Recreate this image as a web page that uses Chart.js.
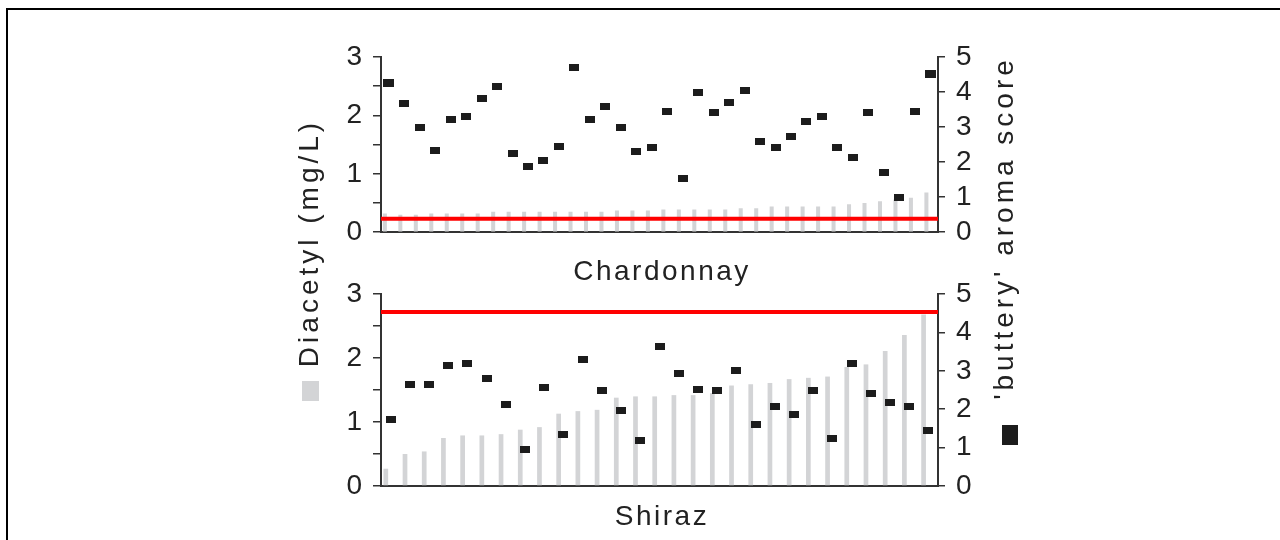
<!DOCTYPE html>
<html>
<head>
<meta charset="utf-8">
<script src="https://cdn.jsdelivr.net/npm/chart.js@4/dist/chart.umd.min.js"></script>
<style>
html,body{margin:0;padding:0;background:#fff;width:1280px;height:540px;overflow:hidden;position:relative;font-family:"Liberation Sans",Arial,sans-serif;color:#222}
#frame{position:absolute;left:6px;top:8px;width:1400px;height:700px;border-left:2px solid #000;border-top:2px solid #000;box-sizing:border-box}
canvas{position:absolute;left:0}
#c1{top:0}
#c2{top:260px}
.t{position:absolute;font-size:28px;letter-spacing:2.5px;white-space:nowrap;line-height:1;transform:translate(-50%,-50%)}
.r{transform:translate(-50%,-50%) rotate(-90deg);letter-spacing:4px}
.sq{position:absolute}
</style>
</head>
<body>
<div id="frame"></div>
<canvas id="c1" width="1280" height="260"></canvas>
<canvas id="c2" width="1280" height="280"></canvas>
<div class="t r" style="left:309px;top:243px">Diacetyl (mg/L)</div>
<div class="sq" style="left:302px;top:381px;width:17px;height:20px;background:#d3d4d6"></div>
<div class="t r" style="left:1004px;top:228px">'buttery' aroma score</div>
<div class="sq" style="left:1002px;top:425px;width:16px;height:20px;background:#1c1c1c"></div>
<div class="t" style="left:662px;top:271px">Chardonnay</div>
<div class="t" style="left:662px;top:516px">Shiraz</div>
<script>
// ---- data ----
const chardonnayWines = ['C1','C2','C3','C4','C5','C6','C7','C8','C9','C10','C11','C12','C13','C14','C15','C16','C17','C18','C19','C20','C21','C22','C23','C24','C25','C26','C27','C28','C29','C30','C31','C32','C33','C34','C35','C36'];
const chardonnayDiacetyl = [0.32,0.30,0.30,0.32,0.32,0.32,0.32,0.35,0.35,0.35,0.35,0.35,0.35,0.35,0.35,0.37,0.37,0.37,0.39,0.39,0.39,0.39,0.39,0.41,0.41,0.44,0.44,0.44,0.44,0.44,0.48,0.50,0.53,0.56,0.59,0.68];
const chardonnayButtery = [4.25,3.66,2.99,2.34,3.22,3.29,3.82,4.17,2.24,1.87,2.05,2.45,4.70,3.22,3.58,2.99,2.29,2.41,3.45,1.54,4.00,3.42,3.71,4.04,2.59,2.42,2.72,3.16,3.29,2.42,2.13,3.42,1.70,1.00,3.45,4.52];
const chardonnayThreshold = 0.23;

const shirazWines = ['S1','S2','S3','S4','S5','S6','S7','S8','S9','S10','S11','S12','S13','S14','S15','S16','S17','S18','S19','S20','S21','S22','S23','S24','S25','S26','S27','S28','S29'];
const shirazDiacetyl = [0.27,0.50,0.54,0.75,0.79,0.79,0.81,0.88,0.92,1.13,1.17,1.19,1.38,1.40,1.40,1.42,1.42,1.45,1.57,1.59,1.61,1.67,1.69,1.71,1.86,1.90,2.11,2.36,2.68];
const shirazButtery = [1.73,2.64,2.64,3.14,3.18,2.79,2.13,0.95,2.57,1.35,3.30,2.48,1.96,1.19,3.63,2.92,2.52,2.48,3.02,1.61,2.08,1.85,2.48,1.23,3.18,2.41,2.17,2.08,1.45];
const shirazThreshold = 2.72;

const diacetylTicks = [0,1,2,3];
const scoreTicks = [0,1,2,3,4,5];

// ---- drawing ----
const FONT = "'Liberation Sans', Arial, sans-serif";
const AXIS = '#333';
function marker(w,h){const c=document.createElement('canvas');c.width=w;c.height=h;const g=c.getContext('2d');g.fillStyle='#1c1c1c';g.fillRect(0,0,w,h);return c;}
const mSmall = marker(10,7), mBig = marker(11,8);

function build(id, cats, bars, scores, threshold, padTop, padBottom, barPct, bigIdx){
  return new Chart(document.getElementById(id), {
    type:'bar',
    data:{
      labels: cats,
      datasets:[
        {type:'line', data:scores, yAxisID:'y2', xAxisID:'x', showLine:false, order:1,
         pointStyle:(ctx)=> bigIdx.includes(ctx.dataIndex) ? mBig : mSmall,
         pointRadius:5, pointBorderWidth:0, clip:false},
        {type:'line', data:[{x:0,y:threshold},{x:1,y:threshold}], xAxisID:'x2', yAxisID:'y',
         borderColor:'#ff0000', borderWidth:4, pointRadius:0, order:2},
        {type:'bar', data:bars, yAxisID:'y', xAxisID:'x', backgroundColor:'#d3d4d6', borderWidth:0,
         barPercentage:barPct, categoryPercentage:1, order:3}
      ]
    },
    options:{
      responsive:false, animation:false, devicePixelRatio:1,
      layout:{padding:{top:padTop,bottom:padBottom,left:0,right:0}},
      plugins:{legend:{display:false}, tooltip:{enabled:false}},
      scales:{
        x:{type:'category', offset:true, grid:{display:false,drawTicks:false}, ticks:{display:false},
           border:{display:true,color:AXIS,width:2}, afterFit(s){s.height=0;}},
        x2:{type:'linear', min:0, max:1, offset:false, grid:{offset:false}, display:false},
        y:{position:'left', min:0, max:3,
           ticks:{stepSize:0.5, autoSkip:false, padding:11, color:'#222', font:{family:FONT,size:28},
                  callback:(v)=> diacetylTicks.includes(v) ? String(v) : ''},
           grid:{drawOnChartArea:false, drawTicks:true, tickLength:8, color:AXIS, lineWidth:1.5},
           border:{display:true,color:AXIS,width:2}, afterFit(s){s.width=381;}},
        y2:{position:'right', min:0, max:5,
           ticks:{stepSize:1, autoSkip:false, padding:11, color:'#222', font:{family:FONT,size:28},
                  callback:(v)=> scoreTicks.includes(v) ? String(v) : ''},
           grid:{drawOnChartArea:false, drawTicks:true, tickLength:7, color:AXIS, lineWidth:1.5},
           border:{display:true,color:AXIS,width:2}, afterFit(s){s.width=342;}}
      }
    }
  });
}
build('c1', chardonnayWines, chardonnayDiacetyl, chardonnayButtery, chardonnayThreshold, 57, 23, 0.52, [0,35]);
build('c2', shirazWines, shirazDiacetyl, shirazButtery, shirazThreshold, 34, 54, 0.49, []);
</script>
</body>
</html>
